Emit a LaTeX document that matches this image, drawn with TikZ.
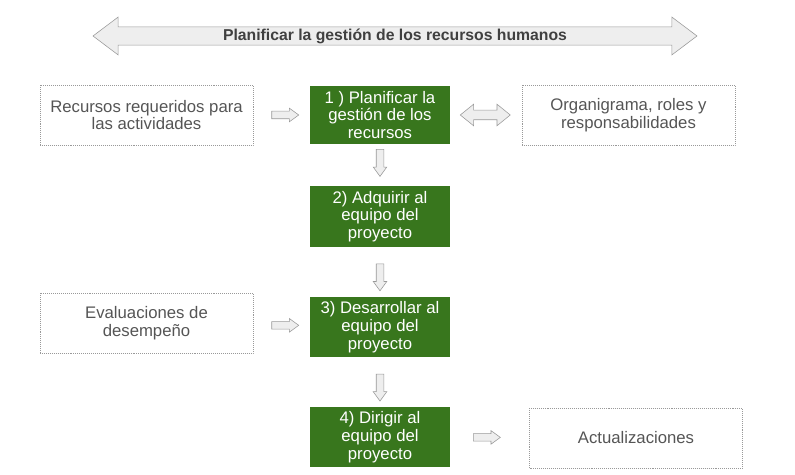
\documentclass[tikz,border=0pt]{standalone}
\usepackage{fontspec}
\setmainfont{Liberation Sans}
\usetikzlibrary{shapes.arrows}

\definecolor{verde}{HTML}{38761D}
\definecolor{textogris}{HTML}{555555}
\definecolor{bordegris}{HTML}{999999}
\definecolor{rellenogris}{HTML}{EEEEEE}

\begin{document}
\begin{tikzpicture}[
		proceso/.style = {rectangle, fill = verde, text = white,
			minimum width = 3.5cm, minimum height = 1.425cm, align = center,
			font = \fontsize{11.9}{12.6}\selectfont},
		entrada/.style = {rectangle, draw = bordegris, densely dotted,
			text = textogris, minimum width = 5.325cm, minimum height = 1.5cm,
			align = center, font = \fontsize{11.9}{12.6}\selectfont},
		flecha/.style = {single arrow, draw = bordegris, fill = rellenogris,
			inner sep = 0.0875cm, minimum height = 0.675cm,
			minimum width = 0.325cm,
			single arrow head extend = 0.075cm, single arrow tip angle = 72},
		flechadoble/.style = {double arrow, draw = bordegris, fill = rellenogris,
			inner sep = 0.1125cm, minimum height = 1.25cm,
			minimum width = 0.525cm,
			double arrow head extend = 0.15cm, double arrow tip angle = 78}]

	\useasboundingbox (0,0) rectangle (19.875,11.875);

	% titulo
	\node [double arrow, draw = bordegris, fill = rellenogris, inner sep = 0pt,
		minimum height = 15.1cm, minimum width = 0.95cm,
		double arrow head extend = 0.2125cm, double arrow tip angle = 74,
		text = black!75, font = \fontsize{11.2}{13}\selectfont\bfseries]
		(titulo) at (9.875,10.975) {Planificar la gestión de los recursos humanos};

	% procesos
	\node [proceso] (p_1) at (9.5,9.0) {1 ) Planificar la\\gestión de los\\recursos};
	\node [proceso] (p_2) at (9.5,6.4625) {2) Adquirir al\\equipo del\\proyecto};
	\node [proceso] (p_3) at (9.5,3.7) {3) Desarrollar al\\equipo del\\proyecto};
	\node [proceso] (p_4) at (9.5,0.95) {4) Dirigir al\\equipo del\\proyecto};

	% entradas y salidas
	\node [entrada] (recursos) at (3.6625,9.0) {Recursos requeridos para\\las actividades};
	\node [entrada] (organigrama) at (15.7125,9.0) {Organigrama, roles y\\responsabilidades};
	\node [entrada] (evaluaciones) at (3.6625,3.8) {Evaluaciones de\\desempeño};
	\node [entrada] (actualizaciones) at (15.9,0.925) {Actualizaciones};

	\path (recursos) -- node [flecha, pos = 0.52] {} (p_1);
	\path (p_1) -- node [flechadoble, pos = 0.49] {} (organigrama);
	\path (p_1) -- node [flecha, shape border rotate = 270, pos = 0.39] {} (p_2);
	\path (p_2) -- node [flecha, shape border rotate = 270, pos = 0.56] {} (p_3);
	\path (evaluaciones) -- node [flecha, pos = 0.52] {} (p_3);
	\path (p_3) -- node [flecha, shape border rotate = 270, pos = 0.56] {} (p_4);
	\path (p_4) -- node [flecha, pos = 0.43] {} (actualizaciones);
\end{tikzpicture}
\end{document}
